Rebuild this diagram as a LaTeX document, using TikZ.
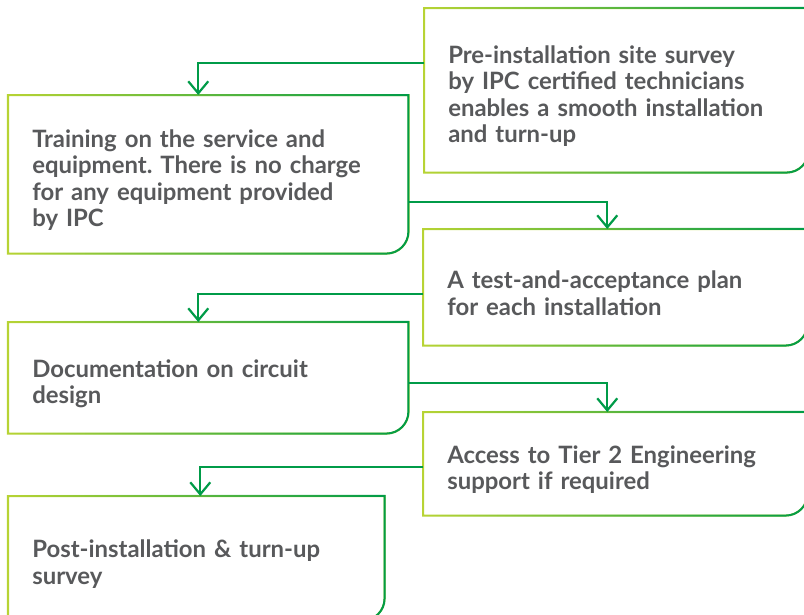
\documentclass[tikz,border=0pt]{standalone}
\usepackage{fontspec}
\setmainfont{Lato}
\usetikzlibrary{arrows.meta,fadings}
\definecolor{ipclime}{RGB}{184,212,52}
\definecolor{ipcgreen}{RGB}{0,155,72}
\definecolor{ipcgray}{RGB}{88,89,91}
\tikzfading[name=fade to green, left color=transparent!100, right color=transparent!0]
\frenchspacing
% outline with one round corner, lime on the left and green on the right
\newcommand{\stepframe}[1]{%
	\draw[frame, ipclime] (#1.south west) -- (#1.north west) -- (#1.north east)
	-- ([yshift=0.55cm]#1.south east) arc[start angle=0, end angle=-90, radius=0.55cm] -- cycle;
	\draw[frame, ipcgreen, path fading=fade to green] (#1.south west) -- (#1.north west) -- (#1.north east)
	-- ([yshift=0.55cm]#1.south east) arc[start angle=0, end angle=-90, radius=0.55cm] -- cycle;
}
\begin{document}
\begin{tikzpicture}[
	stepbox/.style={anchor=north west, inner xsep=0.6cm, inner ysep=0pt, align=left,
		text=ipcgray, font=\bfseries\fontsize{17}{18.85}\selectfont,
		execute at begin node={\rule{0pt}{21pt}}},
	frame/.style={line width=0.05cm},
	link/.style={draw=ipcgreen, line width=0.055cm, -{Straight Barb[length=0.3cm,width=0.5cm]}}]
			\useasboundingbox (0,0) rectangle (20.1,-15.35);
			\clip (0,0) rectangle (20.1,-15.35);
			
			\node[stepbox, text width=8.4cm, minimum height=4.1cm] (b1) at (10.6,-0.2)
			{Pre-installation site survey\\by IPC certified technicians\\enables a smooth installation\\and turn-up};
			\node[stepbox, text width=8.8cm, minimum height=3.95cm] (b2) at (0.2,-2.375)
			{Training on the service and\\equipment. There is no charge\\for any equipment provided\\by IPC};
			\node[stepbox, text width=8.4cm, minimum height=2.9cm] (b3) at (10.575,-5.725)
			{A test-and-acceptance plan\\for each installation};
			\node[stepbox, text width=8.8cm, minimum height=2.775cm] (b4) at (0.2,-8.05)
			{Documentation on circuit\\design};
			\node[stepbox, text width=8.4cm, minimum height=2.575cm] (b5) at (10.575,-10.3)
			{Access to Tier 2 Engineering\\support if required};
			\node[stepbox, text width=8.2cm, minimum height=3.1cm] (b6) at (0.2,-12.4)
			{Post-installation \& turn-up\\survey};
			
			\foreach \b in {b1,b2,b3,b4,b5,b6} {\stepframe{\b}}
			
			\draw[link] ([yshift=-1.375cm]b1.north west) -| ([xshift=-0.25cm]b2.north);
			\draw[link] ([yshift=-2.675cm]b2.north east) -| ([xshift=-0.2cm]b3.north);
			\draw[link] ([yshift=-1.625cm]b3.north west) -| ([xshift=-0.25cm]b4.north);
			\draw[link] ([yshift=-1.525cm]b4.north east) -| ([xshift=-0.2cm]b5.north);
			\draw[link] ([yshift=-1.375cm]b5.north west) -| ([xshift=0.1cm]b6.north);
\end{tikzpicture}
\end{document}
